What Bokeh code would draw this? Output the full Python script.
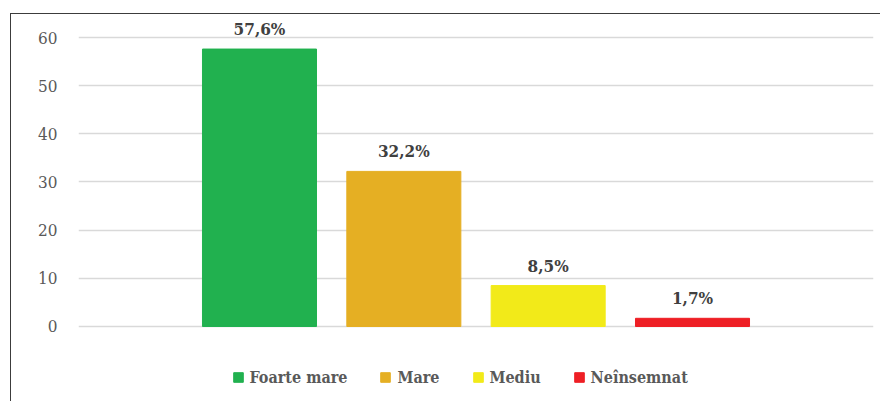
from bokeh.plotting import figure
from bokeh.models import ColumnDataSource, FactorRange, FixedTicker
from bokeh.core.properties import value
from bokeh.embed import file_html
from bokeh.resources import INLINE

categories = ["Foarte mare", "Mare", "Mediu", "Neînsemnat"]
values = [57.6, 32.2, 8.5, 1.7]
labels = ["57,6%", "32,2%", "8,5%", "1,7%"]
colors = ["#21B14F", "#E5AF23", "#F2EA19", "#EE1F25"]
y_ticks = [0, 10, 20, 30, 40, 50, 60]

src = ColumnDataSource(dict(cat=categories, val=values, lab=labels, col=colors))

FONT = "DejaVu Serif Condensed, DejaVu Serif"

p = figure(
    width=870, height=388,
    x_range=FactorRange(factors=categories, range_padding=0.377),
    y_range=(-15.78, 63.53),
    output_backend="svg", toolbar_location=None,
    min_border_left=67, min_border_right=8, min_border_top=6, min_border_bottom=0,
)
p.styles = {"border-top": "1.5px solid #3c3c3c", "border-left": "1.5px solid #3c3c3c",
            "margin-left": "9.5px", "margin-top": "12.5px"}
p.outline_line_color = None
p.background_fill_color = "white"
p.border_fill_color = "white"

r = p.vbar(x="cat", top="val", width=0.79, bottom=0, source=src,
           fill_color="col", line_color="col", legend_field="cat")

p.text(x="cat", y="val", text="lab", source=src, y_offset=-20,
       text_align="center", text_baseline="middle",
       text_font=value(FONT), text_font_style="bold", text_font_size="17px",
       text_color="#404040")

p.xaxis.visible = False
p.xgrid.visible = False
p.ygrid.ticker = FixedTicker(ticks=y_ticks)
p.ygrid.grid_line_color = "#d9d9d9"
p.ygrid.grid_line_width = 1.5
yax = p.yaxis[0]
yax.ticker = FixedTicker(ticks=y_ticks)
yax.axis_line_color = None
yax.major_tick_line_color = None
yax.minor_tick_line_color = None
yax.major_tick_out = 0
yax.major_tick_in = 0
yax.major_label_standoff = 21
yax.major_label_text_font = FONT
yax.major_label_text_font_size = "17px"
yax.major_label_text_color = "#595959"

leg = p.legend[0]
leg.orientation = "horizontal"
leg.location = (154, 15)
leg.glyph_width = 12
leg.glyph_height = 12
leg.label_standoff = 6
leg.spacing = 32
leg.padding = 0
leg.margin = 0
leg.label_text_font = FONT
leg.label_text_font_style = "bold"
leg.label_text_font_size = "16px"
leg.label_text_color = "#595959"
leg.background_fill_alpha = 0
leg.border_line_alpha = 0

open("out.html", "w").write(file_html(p, INLINE))
